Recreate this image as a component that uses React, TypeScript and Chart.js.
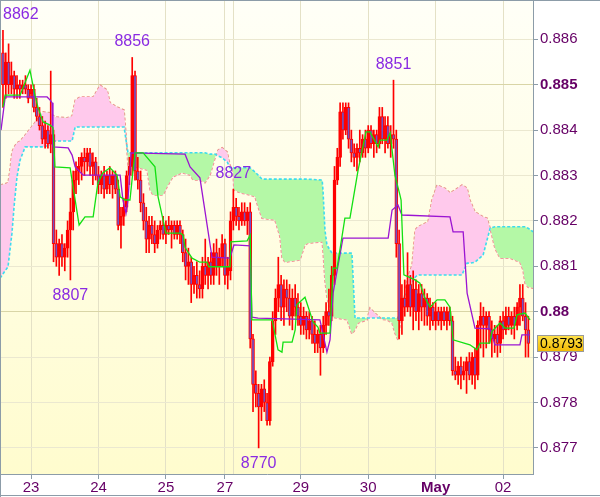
import React, { useEffect, useRef } from "react";
import { Chart, registerables } from "chart.js";

Chart.register(...registerables);

// Hourly candles, prices in pips (x 1/10000)
const opens = [
  8857, 8850, 8855, 8850, 8852, 8849, 8850, 8849, 8850, 8849,
  8848, 8849, 8845, 8843, 8841, 8838, 8840, 8837, 8839, 8815,
  8812, 8815, 8812, 8814, 8818, 8822, 8829, 8831, 8832, 8834,
  8833, 8835, 8832, 8833, 8830, 8828, 8830, 8827, 8830, 8828,
  8830, 8827, 8819, 8821, 8823, 8830, 8832, 8852, 8831, 8829,
  8824, 8820, 8816, 8819, 8817, 8815, 8818, 8819, 8817, 8819,
  8818, 8819, 8817, 8819, 8817, 8813, 8810, 8811, 8806, 8808,
  8806, 8805, 8810, 8808, 8811, 8808, 8813, 8810, 8812, 8815,
  8808, 8809, 8820, 8823, 8821, 8820, 8822, 8820, 8822, 8794,
  8784, 8782, 8779, 8783, 8780, 8776, 8789, 8798, 8803, 8806,
  8801, 8805, 8803, 8799, 8803, 8801, 8799, 8797, 8799, 8796,
  8798, 8795, 8793, 8795, 8792, 8797, 8800, 8799, 8808, 8829,
  8834, 8844, 8840, 8845, 8838, 8835, 8834, 8836, 8835, 8838,
  8836, 8840, 8837, 8839, 8837, 8843, 8838, 8841, 8837, 8839,
  8838, 8815, 8798, 8803, 8801, 8806, 8801, 8805, 8800, 8804,
  8801, 8803, 8799, 8801, 8798, 8800, 8798, 8800, 8798, 8800,
  8798, 8787, 8786, 8788, 8786, 8787, 8789, 8786, 8790, 8786,
  8797, 8799, 8797, 8799, 8796, 8794, 8795, 8793, 8798, 8796,
  8799, 8797, 8799, 8797, 8801, 8803, 8799, 8796,
];
const highs = [
  8862, 8857, 8859, 8855, 8853, 8852, 8851, 8851, 8852, 8850,
  8850, 8850, 8847, 8845, 8843, 8842, 8841, 8853, 8840, 8818,
  8816, 8817, 8815, 8820, 8825, 8831, 8833, 8834, 8835, 8836,
  8836, 8836, 8835, 8834, 8832, 8831, 8832, 8831, 8832, 8831,
  8831, 8829, 8823, 8825, 8831, 8834, 8856, 8853, 8834, 8831,
  8826, 8823, 8821, 8821, 8820, 8819, 8820, 8821, 8820, 8821,
  8820, 8820, 8820, 8820, 8818, 8816, 8814, 8812, 8810, 8811,
  8809, 8812, 8816, 8812, 8813, 8815, 8816, 8814, 8817, 8816,
  8812, 8822, 8827, 8825, 8823, 8824, 8824, 8823, 8824, 8795,
  8787, 8784, 8784, 8785, 8782, 8790, 8800, 8805, 8812, 8808,
  8807, 8807, 8806, 8805, 8806, 8804, 8802, 8801, 8800, 8800,
  8799, 8798, 8796, 8797, 8799, 8802, 8805, 8810, 8832, 8836,
  8846, 8846, 8846, 8846, 8840, 8837, 8837, 8840, 8839, 8840,
  8841, 8841, 8840, 8840, 8845, 8845, 8843, 8843, 8841, 8851,
  8840, 8818, 8806, 8807, 8813, 8808, 8809, 8807, 8806, 8806,
  8805, 8804, 8803, 8802, 8802, 8801, 8801, 8801, 8801, 8801,
  8799, 8790, 8789, 8790, 8789, 8790, 8791, 8791, 8792, 8798,
  8802, 8801, 8800, 8800, 8798, 8797, 8797, 8799, 8800, 8801,
  8801, 8800, 8801, 8802, 8806, 8806, 8802, 8799,
];
const lows = [
  8845, 8847, 8848, 8848, 8847, 8847, 8847, 8848, 8848, 8846,
  8847, 8844, 8842, 8840, 8837, 8836, 8836, 8835, 8811, 8810,
  8808, 8810, 8809, 8812, 8807, 8818, 8826, 8828, 8829, 8830,
  8831, 8830, 8828, 8829, 8826, 8826, 8825, 8826, 8826, 8825,
  8826, 8818, 8814, 8819, 8822, 8828, 8830, 8829, 8827, 8822,
  8818, 8813, 8813, 8815, 8813, 8814, 8816, 8816, 8815, 8817,
  8814, 8816, 8816, 8815, 8811, 8807, 8806, 8802, 8804, 8803,
  8803, 8803, 8806, 8805, 8806, 8806, 8808, 8806, 8810, 8806,
  8805, 8807, 8818, 8819, 8818, 8819, 8819, 8817, 8792, 8778,
  8779, 8770, 8776, 8778, 8775, 8775, 8788, 8795, 8800, 8798,
  8797, 8800, 8797, 8796, 8799, 8797, 8795, 8795, 8794, 8794,
  8793, 8791, 8791, 8786, 8791, 8795, 8797, 8798, 8806, 8828,
  8832, 8838, 8839, 8836, 8833, 8832, 8831, 8833, 8834, 8834,
  8835, 8836, 8834, 8835, 8836, 8837, 8835, 8836, 8834, 8836,
  8812, 8794, 8795, 8799, 8800, 8799, 8796, 8798, 8796, 8798,
  8797, 8797, 8796, 8797, 8796, 8797, 8796, 8797, 8796, 8797,
  8786, 8785, 8784, 8783, 8785, 8782, 8785, 8784, 8783, 8785,
  8792, 8790, 8792, 8793, 8790, 8791, 8790, 8791, 8794, 8795,
  8796, 8795, 8794, 8796, 8797, 8798, 8790, 8790,
];
const closes = [
  8850, 8855, 8850, 8852, 8849, 8850, 8849, 8850, 8849, 8847,
  8849, 8845, 8843, 8841, 8838, 8840, 8837, 8839, 8815, 8812,
  8815, 8812, 8814, 8818, 8822, 8829, 8831, 8832, 8834, 8833,
  8835, 8832, 8833, 8830, 8828, 8830, 8827, 8830, 8828, 8830,
  8827, 8819, 8821, 8823, 8830, 8832, 8852, 8831, 8829, 8824,
  8820, 8816, 8819, 8817, 8815, 8818, 8819, 8817, 8819, 8818,
  8819, 8817, 8819, 8817, 8813, 8810, 8811, 8806, 8808, 8806,
  8805, 8810, 8808, 8811, 8808, 8813, 8810, 8812, 8815, 8808,
  8810, 8820, 8823, 8821, 8820, 8822, 8820, 8822, 8794, 8784,
  8782, 8779, 8783, 8780, 8776, 8789, 8798, 8803, 8806, 8801,
  8805, 8803, 8799, 8803, 8801, 8799, 8797, 8799, 8796, 8798,
  8795, 8793, 8795, 8792, 8797, 8800, 8799, 8808, 8829, 8834,
  8844, 8840, 8845, 8838, 8835, 8834, 8836, 8835, 8838, 8836,
  8840, 8837, 8839, 8837, 8843, 8838, 8841, 8837, 8839, 8838,
  8815, 8798, 8803, 8801, 8806, 8801, 8805, 8800, 8804, 8801,
  8803, 8799, 8801, 8798, 8800, 8798, 8800, 8798, 8800, 8798,
  8787, 8786, 8788, 8786, 8787, 8789, 8786, 8790, 8786, 8797,
  8799, 8797, 8799, 8796, 8794, 8795, 8793, 8798, 8796, 8799,
  8797, 8799, 8797, 8801, 8803, 8799, 8796, 8793,
];

// Tenkan-sen (green)
const tenkanX = [
  0, 0.75, 6.1, 9.6, 11.4, 12.5, 14.3, 16.8, 17.8, 18.5,
  23.9, 27.1, 29.2, 32.1, 33.8, 35.6, 38.1, 40.6, 41.7, 43.5,
  45.2, 46.3, 47.0, 49.9, 54.1, 55.2, 58.0, 63.0, 64.1, 64.8,
  67.3, 70.1, 72.6, 73.3, 80.8, 81.1, 86.9, 88.0, 88.6, 95.8,
  97.9, 99.3, 99.7, 102.9, 104.0, 104.6, 107.5, 110.4, 112.1, 112.8,
  116.4, 117.5, 118.9, 121.7, 123.5, 126.4, 129.2, 130.6, 133.5, 134.2,
  136.7, 137.8, 139.5, 141.3, 141.7, 142.7, 146.7, 148.4, 150.2, 152.0,
  154.5, 157.3, 159.1, 160.2, 166.2, 168.7, 169.8, 173.3, 174.0, 176.9,
  178.7, 181.9, 183.0, 185.8, 187.6,
];
const tenkanY = [
  8845.1, 8847.7, 8847.7, 8853.2, 8847.7, 8844.9, 8841.8, 8841.1, 8840.5, 8831.9,
  8831.7, 8819.1, 8820.9, 8820.9, 8828.4, 8830.6, 8831.7, 8830.1, 8825.3, 8824.6,
  8824.6, 8831.2, 8835.0, 8835.0, 8831.9, 8825.3, 8817.3, 8817.3, 8816.9, 8814.2,
  8811.8, 8810.9, 8810.9, 8809.9, 8809.9, 8815.4, 8815.6, 8816.9, 8798.2, 8798.2,
  8791.6, 8791.1, 8793.3, 8793.3, 8796.0, 8801.5, 8803.2, 8797.7, 8796.6, 8795.3,
  8795.3, 8809.6, 8809.6, 8820.6, 8820.6, 8831.2, 8839.6, 8839.6, 8836.3, 8837.8,
  8837.8, 8839.4, 8830.1, 8825.7, 8824.6, 8808.1, 8807.0, 8806.3, 8803.0, 8801.0,
  8802.6, 8802.6, 8801.0, 8793.8, 8792.7, 8791.6, 8793.1, 8793.1, 8795.6, 8797.5,
  8796.4, 8796.4, 8799.3, 8799.7, 8798.2,
];

// Kijun-sen (purple)
const kijunX = [
  -0.7, 0.8, 15.7, 16.8, 17.5, 17.8, 23.2, 24.6, 25.7, 28.5,
  41.7, 42.7, 43.8, 44.5, 45.6, 64.8, 66.6, 70.1, 74.4, 80.8,
  82.2, 88.0, 88.6, 90.8, 112.8, 113.6, 115.3, 116.4, 117.5, 121.0,
  137.1, 138.5, 140.6, 142.0, 159.1, 160.2, 163.8, 165.2, 168.0, 173.4,
  175.1, 184.0, 184.7, 187.6,
];
const kijunY = [
  8840, 8847.3, 8847.3, 8846.6, 8846.0, 8836.3, 8836.1, 8834.5, 8831.9, 8830.1,
  8830.1, 8824.6, 8821.7, 8824.6, 8835.0, 8834.7, 8831.9, 8829.5, 8812.0, 8811.8,
  8814.7, 8814.5, 8798.8, 8798.6, 8798.2, 8796.0, 8791.1, 8793.8, 8804.1, 8816.2,
  8816.2, 8822.4, 8823.5, 8821.3, 8820.9, 8817.6, 8817.6, 8804.1, 8796.4, 8796.2,
  8792.7, 8792.7, 8794.9, 8794.9,
];

// Cloud: Senkou span A (cyan) and B (pink)
const cloudX = [
  -1.0, 0.4, 1.8, 2.5, 3.2, 4.0, 5.0, 6.1, 7.9, 10.7,
  14.3, 16.8, 18.5, 22.8, 24.6, 25.7, 27.4, 32.1, 34.6, 37.1,
  38.1, 40.6, 43.1, 43.8, 44.5, 51.3, 52.4, 53.4, 57.0, 58.4,
  60.5, 63.7, 66.6, 67.7, 70.1, 71.9, 73.7, 75.5, 76.6, 78.0,
  79.8, 80.8, 81.9, 82.2, 84.4, 87.9, 89.7, 90.8, 92.2, 96.8,
  98.6, 99.3, 100.4, 105.7, 107.5, 108.6, 113.6, 113.9, 114.6, 115.3,
  117.1, 122.5, 124.2, 125.3, 126.4, 129.6, 130.6, 132.4, 134.9, 136.7,
  138.5, 139.5, 140.6, 142.4, 143.8, 145.6, 146.7, 147.7, 151.3, 152.7,
  154.5, 157.3, 159.1, 160.9, 163.4, 164.1, 165.2, 166.2, 168.0, 170.9,
  172.3, 173.4, 175.1, 176.9, 180.5, 184.0, 185.1, 185.8, 186.9, 188.7,
];
const spanA = [
  8807.4, 8808.7, 8809.9, 8813.6, 8817.3, 8823.5, 8829.7, 8833.4, 8836.3, 8836.3,
  8836.3, 8836.7, 8837.6, 8837.6, 8837.6, 8840.7, 8840.7, 8840.7, 8840.7, 8840.7,
  8840.7, 8840.7, 8840.7, 8837.8, 8835.0, 8835.0, 8835.0, 8835.0, 8835.0, 8835.0,
  8835.0, 8835.0, 8835.0, 8835.0, 8835.0, 8835.0, 8834.7, 8834.7, 8834.3, 8833.9,
  8833.0, 8831.7, 8831.7, 8831.7, 8831.7, 8831.7, 8830.8, 8830.1, 8829.2, 8829.2,
  8829.2, 8829.2, 8829.2, 8829.2, 8829.2, 8829.2, 8829.0, 8826.8, 8818.0, 8814.7,
  8812.9, 8812.9, 8812.9, 8798.6, 8798.6, 8798.6, 8798.6, 8798.6, 8798.6, 8798.6,
  8798.6, 8798.6, 8798.6, 8802.6, 8804.3, 8806.3, 8807.6, 8808.1, 8808.1, 8808.1,
  8808.1, 8808.1, 8808.1, 8808.1, 8808.1, 8809.2, 8810.7, 8810.7, 8810.9, 8812.5,
  8815.8, 8818.4, 8818.7, 8818.7, 8818.7, 8818.7, 8818.7, 8818.7, 8818.4, 8817.6,
];
const spanB = [
  8827.9, 8828.1, 8828.4, 8831.2, 8835.2, 8836.3, 8837.2, 8837.6, 8838.9, 8841.1,
  8844.0, 8843.8, 8842.9, 8842.7, 8843.1, 8846.6, 8847.3, 8847.3, 8849.9, 8848.8,
  8846.0, 8845.1, 8844.4, 8838.9, 8832.3, 8831.2, 8826.8, 8825.7, 8825.7, 8827.5,
  8829.7, 8830.6, 8830.1, 8829.0, 8829.0, 8828.4, 8830.1, 8833.9, 8835.6, 8836.1,
  8835.2, 8832.3, 8830.8, 8826.8, 8826.2, 8825.7, 8825.3, 8823.1, 8820.6, 8820.2,
  8816.5, 8812.0, 8810.9, 8811.4, 8814.7, 8815.1, 8815.4, 8813.6, 8807.0, 8803.2,
  8798.8, 8798.2, 8795.1, 8796.0, 8797.5, 8798.2, 8800.8, 8799.7, 8798.3, 8798.2,
  8797.5, 8795.3, 8793.8, 8801.5, 8807.0, 8810.3, 8818.0, 8818.7, 8819.8, 8824.6,
  8827.9, 8827.2, 8826.2, 8826.8, 8827.9, 8827.7, 8827.2, 8824.6, 8822.0, 8820.9,
  8820.6, 8818.4, 8814.0, 8811.8, 8811.8, 8810.9, 8809.2, 8806.3, 8805.4, 8805.2,
];

// Axis ticks
const yTicks = [0.877, 0.878, 0.879, 0.88, 0.881, 0.882, 0.883, 0.884, 0.885, 0.886];
const yMajor = [0.88, 0.885];
const xTickIdx = [10, 34, 58, 79, 82, 106, 130, 154, 178];
const xTickText = ["23", "24", "25", "27", "", "29", "30", "May", "02"];
const xBoldIdx = [154];

// Marked extremes (candle indices)
const peakIdx = [0, 46, 82, 139];
const troughIdx = [24, 91];

const FONT = "'Liberation Sans', Arial, Helvetica, sans-serif";
const AXIS = "#8c9ca8";
const LABEL = "#660066";
const P = (v: number) => v / 10000;

export default function App() {
  const ref = useRef<HTMLCanvasElement>(null);

  useEffect(() => {
    document.body.style.margin = "0";
    const canvas = ref.current;
    if (!canvas) return;
    const idx = opens.map((_, i) => i);
    const last = closes.length - 1;

    const decor = {
      id: "decor",
      beforeDraw(chart: any) {
        const { ctx, chartArea: a, width, height } = chart;
        ctx.save();
        ctx.fillStyle = "#ffffff";
        ctx.fillRect(0, 0, width, height);
        const g = ctx.createLinearGradient(0, a.top, 0, a.bottom);
        g.addColorStop(0, "#fffff7");
        g.addColorStop(1, "#fffcce");
        ctx.fillStyle = g;
        ctx.fillRect(a.left, a.top, a.right - a.left, a.bottom - a.top);
        ctx.restore();
      },
      afterDatasetsDraw(chart: any) {
        const { ctx, chartArea: a } = chart;
        const xs = chart.scales.x;
        const ys = chart.scales.y;
        ctx.save();
        ctx.font = `16px ${FONT}`;
        ctx.fillStyle = "#8a2be2";
        ctx.textAlign = "left";
        const place = (i: number, text: string) => {
          const w = ctx.measureText(text).width;
          const x = xs.getPixelForValue(i);
          return Math.min(Math.max(x - w / 2, a.left + 2), a.right - w - 2);
        };
        ctx.textBaseline = "alphabetic";
        peakIdx.forEach((i) => {
          const t = String(highs[i]);
          ctx.fillText(t, place(i, t), ys.getPixelForValue(P(highs[i])) - 11);
        });
        ctx.textBaseline = "top";
        troughIdx.forEach((i) => {
          const t = String(lows[i]);
          ctx.fillText(t, place(i, t), ys.getPixelForValue(P(lows[i])) + 8);
        });
        ctx.restore();
      },
      afterDraw(chart: any) {
        const { ctx, chartArea: a, width, height } = chart;
        const ys = chart.scales.y;
        ctx.save();
        ctx.strokeStyle = AXIS;
        ctx.lineWidth = 1;
        ctx.beginPath();
        ctx.moveTo(0.5, 0);
        ctx.lineTo(0.5, height);
        ctx.moveTo(0, 0.5);
        ctx.lineTo(width, 0.5);
        ctx.moveTo(0, height - 1.5);
        ctx.lineTo(width, height - 1.5);
        ctx.stroke();
        // last price box
        const yy = Math.round(ys.getPixelForValue(P(closes[last])));
        const bx = a.right + 4;
        const bw = 47;
        const bh = 17;
        const by = yy - 8;
        const g = ctx.createLinearGradient(0, by, 0, by + bh);
        g.addColorStop(0, "#ffe34d");
        g.addColorStop(1, "#f2b800");
        ctx.fillStyle = g;
        ctx.fillRect(bx, by, bw, bh);
        ctx.strokeStyle = "#9a9a9a";
        ctx.strokeRect(bx + 0.5, by + 0.5, bw - 1, bh - 1);
        ctx.fillStyle = "#000000";
        ctx.font = `14px ${FONT}`;
        ctx.textBaseline = "middle";
        ctx.textAlign = "left";
        ctx.fillText(P(closes[last]).toFixed(4), bx + 3, yy + 1);
        ctx.restore();
      },
    };

    const chart = new Chart(canvas, {
      type: "bar",
      data: {
        datasets: [
          {
            type: "line",
            label: "Senkou A",
            data: cloudX.map((x, i) => ({ x, y: P(spanA[i]) })),
            borderColor: "#3cdcee",
            borderWidth: 1.6,
            borderDash: [3, 2],
            pointRadius: 0,
            tension: 0,
            fill: { target: 1, above: "#b4f8a6", below: "#ffc9ec" },
            order: 20,
          },
          {
            type: "line",
            label: "Senkou B",
            data: cloudX.map((x, i) => ({ x, y: P(spanB[i]) })),
            borderColor: "#f08a8a",
            borderWidth: 1.6,
            borderDash: [3, 2],
            pointRadius: 0,
            tension: 0,
            fill: false,
            order: 21,
          },
          {
            type: "bar",
            label: "wick",
            data: idx.map((i) => ({ x: i, y: [P(lows[i]), P(highs[i])] })),
            backgroundColor: "#ff0000",
            borderWidth: 0,
            barThickness: 1,
            grouped: false,
            order: 6,
          },
          {
            type: "bar",
            label: "body",
            data: idx.map((i) => ({ x: i, y: [P(opens[i]), P(closes[i])] })),
            backgroundColor: idx.map((i) => (closes[i] < opens[i] ? "#7052c4" : "rgba(255,255,255,0)")),
            borderColor: "#ff0000",
            borderWidth: 1,
            borderSkipped: false,
            barThickness: 3,
            grouped: false,
            order: 5,
          },
          {
            type: "line",
            label: "Kijun",
            data: kijunX.map((x, i) => ({ x, y: P(kijunY[i]) })),
            borderColor: "#9b14d2",
            borderWidth: 1.3,
            pointRadius: 0,
            tension: 0,
            fill: false,
            order: 2,
          },
          {
            type: "line",
            label: "Tenkan",
            data: tenkanX.map((x, i) => ({ x, y: P(tenkanY[i]) })),
            borderColor: "#12e012",
            borderWidth: 1.3,
            pointRadius: 0,
            tension: 0,
            fill: false,
            order: 1,
          },
        ] as any,
      },
      options: {
        responsive: false,
        animation: false,
        events: [],
        layout: { padding: { left: 1, top: 1, right: 0, bottom: 0 } },
        plugins: { legend: { display: false }, tooltip: { enabled: false } },
        scales: {
          x: {
            type: "linear",
            min: -0.7,
            max: 188.65,
            offset: false,
            grid: {
              offset: false,
              color: "#e4e1c6",
              tickLength: 5,
              tickColor: (c: any) => (c.tick && c.tick.value === 82 ? "rgba(0,0,0,0)" : AXIS),
            },
            border: { display: true, color: AXIS },
            afterBuildTicks: (s: any) => {
              s.ticks = xTickIdx.map((v) => ({ value: v }));
            },
            afterFit: (s: any) => {
              s.height = 23;
              s.paddingLeft = 0;
              s.paddingRight = 0;
            },
            ticks: {
              autoSkip: false,
              maxRotation: 0,
              minRotation: 0,
              padding: 0,
              color: LABEL,
              font: (c: any) => ({
                family: FONT,
                size: 15,
                weight: c.tick && xBoldIdx.includes(c.tick.value) ? "bold" : "normal",
              }),
              callback: (v: any) => {
                const k = xTickIdx.indexOf(Number(v));
                return k >= 0 ? xTickText[k] : "";
              },
            },
          } as any,
          y: {
            type: "linear",
            position: "right",
            min: 0.876425,
            max: 0.886844,
            grid: {
              color: (c: any) =>
                c.tick && yMajor.some((m) => Math.abs(m - c.tick.value) < 1e-7) ? "#d9d5a6" : "#ebe8d0",
              tickLength: 5,
              tickColor: AXIS,
            },
            border: { display: true, color: AXIS },
            afterBuildTicks: (s: any) => {
              s.ticks = yTicks.map((v) => ({ value: v }));
            },
            afterFit: (s: any) => {
              s.width = 67;
              s.paddingTop = 0;
              s.paddingBottom = 0;
            },
            ticks: {
              padding: 2,
              color: LABEL,
              font: (c: any) => ({
                family: FONT,
                size: 15,
                weight: c.tick && yMajor.some((m) => Math.abs(m - c.tick.value) < 1e-7) ? "bold" : "normal",
              }),
              callback: (v: any) => String(Number(Number(v).toFixed(3))),
            },
          } as any,
        },
      },
      plugins: [decor],
    } as any);

    return () => chart.destroy();
  }, []);

  return (
    <div style={{ width: 600, height: 497 }}>
      <canvas ref={ref} width={600} height={497} style={{ display: "block" }} />
    </div>
  );
}
